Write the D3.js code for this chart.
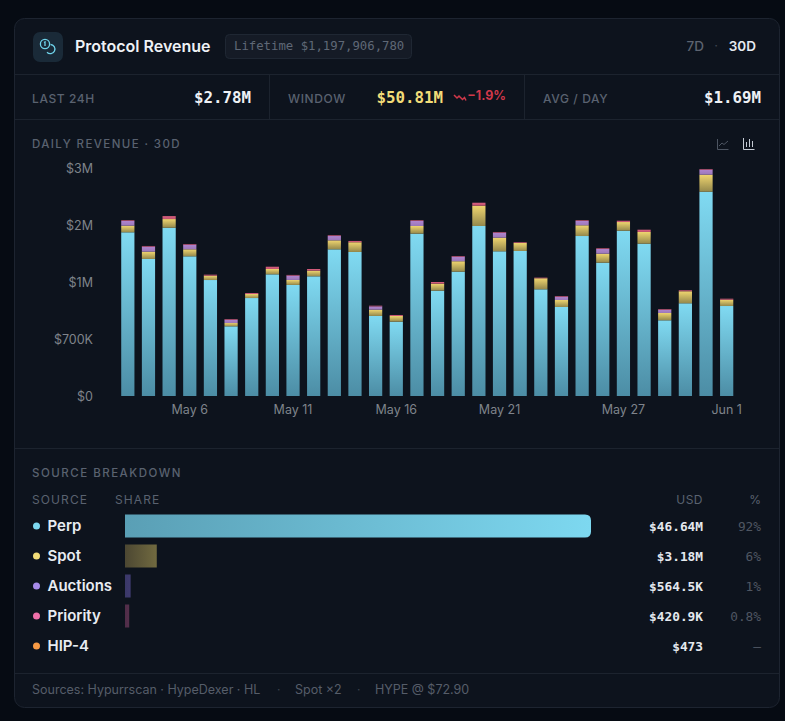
<!DOCTYPE html>
<html lang="en">
<head>
  <meta charset="UTF-8">
  <title>Protocol Revenue</title>
  <script src="https://d3js.org/d3.v7.min.js"></script>
  <style>
    html, body { margin: 0; padding: 0; background: #060b13; overflow: hidden; }
    text { font-family: Inter, "Noto Sans", sans-serif; }
    .mono { font-family: "DejaVu Sans Mono", "Liberation Mono", monospace; }
  </style>
</head>
<body>
  <div id="chart"></div>
  <script>
    // daily revenue, $K
    const days = ['May 3','May 4','May 5','May 6','May 7','May 8','May 9','May 10','May 11','May 12',
      'May 13','May 14','May 15','May 16','May 17','May 18','May 19','May 20','May 21','May 22',
      'May 23','May 24','May 25','May 26','May 27','May 28','May 29','May 30','May 31','Jun 1'];
    const perp = [2154,1803,2214,1838,1526,917,1289,1601,1461,1575,1930,1895,1053,978,2136,
      1386,1636,2237,1904,1908,1404,1171,2105,1754,2175,2004,996,1220,2688,1184];
    const spot = [87,96,114,92,57,43,53,70,66,74,118,128,83,75,101,
      92,137,267,179,105,145,92,141,118,114,154,96,158,224,83];
    const auctions = [62,66,0,60,0,43,0,0,57,0,57,0,43,0,66,
      0,60,0,66,0,0,43,57,62,0,0,43,0,66,0];
    const priority = [9,9,39,9,13,9,13,30,9,22,9,17,9,13,9,
      22,9,39,9,9,8,9,9,9,17,30,9,13,9,13];
    const xTicks = ['May 6','May 11','May 16','May 21','May 27','Jun 1'];
    const yTicks = [0,750,1500,2250,3000];
    const yTickLabels = ['$0','$700K','$1M','$2M','$3M'];

    // source breakdown
    const sources = ['Perp','Spot','Auctions','Priority','HIP-4'];
    const sourceValues = [46640,3180,564.5,420.9,0.473];
    const sourceUsd = ['$46.64M','$3.18M','$564.5K','$420.9K','$473'];
    const sourcePct = ['92%','6%','1%','0.8%','—'];
    const sourceColors = ['#7dd8f0','#f2dc78','#a78bea','#ee6fa8','#f79a45'];

    const width = 785, height = 721;
    const svg = d3.select('#chart').append('svg')
      .attr('width', width).attr('height', height)
      .style('display', 'block');
    const defs = svg.append('defs');

    function gradient(id, stops, x2, y2) {
      const g = defs.append('linearGradient').attr('id', id)
        .attr('x1', 0).attr('y1', 0).attr('x2', x2).attr('y2', y2);
      stops.forEach(s => g.append('stop').attr('offset', s[0]).attr('stop-color', s[1]));
    }
    gradient('gPerp', [[0,'#80daf2'],[1,'#4c8da5']], 0, 1);
    gradient('gSpot', [[0,'#efd56f'],[1,'#94884c']], 0, 1);
    gradient('gAuc', [[0,'#b084cf'],[1,'#9a78b8']], 0, 1);
    gradient('gPri', [[0,'#d8607f'],[1,'#c0506e']], 0, 1);
    gradient('hPerp', [[0,'#5a9fb5'],[1,'#7dd8f0']], 1, 0);
    gradient('hSpot', [[0,'#4c4732'],[1,'#716a40']], 1, 0);
    gradient('hAuc', [[0,'#3a3868'],[1,'#3f3b70']], 1, 0);
    gradient('hPri', [[0,'#4f2c48'],[1,'#55304c']], 1, 0);

    function label(x, y, str, opts) {
      const o = opts || {};
      return svg.append('text').attr('x', x).attr('y', y).text(str)
        .attr('class', o.mono ? 'mono' : null)
        .attr('font-size', o.size || 12)
        .attr('font-weight', o.weight || 400)
        .attr('fill', o.fill || '#6b7280')
        .attr('text-anchor', o.anchor || 'start')
        .attr('letter-spacing', o.ls || 0);
    }

    // card
    svg.append('rect').attr('x', 14.5).attr('y', 18.5).attr('width', 765).attr('height', 689)
      .attr('rx', 10).attr('fill', '#0d131d').attr('stroke', '#1d2430');

    // dividers
    [74.5, 119.5, 448.5, 673.5].forEach(y => {
      svg.append('line').attr('x1', 15).attr('x2', 779).attr('y1', y).attr('y2', y).attr('stroke', '#1c232e');
    });
    [269.5, 524.5].forEach(x => {
      svg.append('line').attr('x1', x).attr('x2', x).attr('y1', 75).attr('y2', 119).attr('stroke', '#1c232e');
    });

    // header
    svg.append('rect').attr('x', 33).attr('y', 32).attr('width', 30).attr('height', 30)
      .attr('rx', 7).attr('fill', '#1a2a38');
    const coins = svg.append('g').attr('fill', 'none').attr('stroke', '#6fd3ea').attr('stroke-width', 1.3);
    coins.append('circle').attr('cx', 45).attr('cy', 44).attr('r', 4.6);
    coins.append('path').attr('d', 'M50.500 44.500a4.600 4.600 0 1 1-3.500 7.800');
    coins.append('path').attr('d', 'M44 42.500l1-.6v4');

    label(75, 52, 'Protocol Revenue', { size: 16, weight: 600, fill: '#eef1f5' });
    svg.append('rect').attr('x', 225.5).attr('y', 34.5).attr('width', 186).attr('height', 24)
      .attr('rx', 4).attr('fill', '#151b26').attr('stroke', '#1f2733');
    label(234, 50, 'Lifetime $1,197,906,780', { mono: true, size: 12.3, fill: '#5f6876' });
    label(704, 51, '7D', { size: 13.5, weight: 500, fill: '#5d6470', anchor: 'end' });
    label(716, 50, '·', { size: 13, fill: '#3f4652', anchor: 'middle' });
    label(756, 51, '30D', { size: 13.5, weight: 600, fill: '#e6eaf0', anchor: 'end' });

    // stats row
    label(32, 103, 'LAST 24H', { size: 12, weight: 500, fill: '#5a6270', ls: 0.6 });
    label(251, 103, '$2.78M', { mono: true, size: 15.8, weight: 700, fill: '#eef1f5', anchor: 'end' });
    label(288, 103, 'WINDOW', { size: 12, weight: 500, fill: '#5a6270', ls: 0.6 });
    label(443, 103, '$50.81M', { mono: true, size: 15.8, weight: 700, fill: '#f2dc78', anchor: 'end' });
    svg.append('path').attr('d', 'M454 95l3 3 2-2 3.500 3.500 2-2 1.500 3')
      .attr('fill', 'none').attr('stroke', '#d0384a').attr('stroke-width', 1.5);
    label(506, 100, '−1.9%', { size: 12.5, weight: 700, fill: '#d0384a', anchor: 'end' });
    label(543, 103, 'AVG / DAY', { size: 12, weight: 500, fill: '#5a6270', ls: 0.6 });
    label(761, 103, '$1.69M', { mono: true, size: 15.8, weight: 700, fill: '#eef1f5', anchor: 'end' });

    // chart
    label(32, 148, 'DAILY REVENUE · 30D', { size: 11.5, weight: 500, fill: '#5a6270', ls: 1.4 });
    const iconLine = svg.append('g').attr('fill', 'none').attr('stroke', '#4d5562').attr('stroke-width', 1);
    iconLine.append('path').attr('d', 'M717.500 139v10.500h11');
    iconLine.append('path').attr('d', 'M719 146l3-3 2 1.500 4-3.500');
    const iconBar = svg.append('g').attr('fill', 'none').attr('stroke', '#c4cad3').attr('stroke-width', 1);
    iconBar.append('path').attr('d', 'M743.500 138v11.500h11 M746.500 147v-5 M749.500 147v-8 M752.500 147v-6');

    const y = d3.scaleLinear().domain([0, 3000]).range([396, 168]);
    const x = d3.scaleBand().domain(days).range([117.5, 737]).paddingInner(0.36).paddingOuter(0.18);

    const yAxis = svg.append('g').attr('transform', 'translate(93,0)')
      .call(d3.axisLeft(y).tickValues(yTicks).tickSize(0).tickPadding(0)
        .tickFormat((d, i) => yTickLabels[i]));
    yAxis.select('.domain').remove();
    yAxis.selectAll('text').attr('font-size', 12.5).attr('fill', '#7f848b')
      .attr('font-family', 'Inter, sans-serif');

    const xAxis = svg.append('g').attr('transform', 'translate(0,396)')
      .call(d3.axisBottom(x).tickValues(xTicks).tickSize(0).tickPadding(9));
    xAxis.select('.domain').remove();
    xAxis.selectAll('text').attr('font-size', 12.5).attr('fill', '#7f848b')
      .attr('font-family', 'Inter, sans-serif');

    const rows = days.map((d, i) => ({ day: d, perp: perp[i], spot: spot[i], auctions: auctions[i], priority: priority[i] }));
    const stack = d3.stack().keys(['perp','spot','auctions','priority'])(rows);
    const fills = { perp: 'url(#gPerp)', spot: 'url(#gSpot)', auctions: 'url(#gAuc)', priority: 'url(#gPri)' };

    svg.append('g').selectAll('g').data(stack).enter().append('g')
      .attr('fill', s => fills[s.key])
      .selectAll('rect').data(s => s.filter(p => p[1] > p[0])).enter().append('rect')
      .attr('x', p => x(p.data.day))
      .attr('width', x.bandwidth())
      .attr('y', p => y(p[1]))
      .attr('height', p => y(p[0]) - y(p[1]));

    // breakdown
    label(32, 477, 'SOURCE BREAKDOWN', { size: 11.5, weight: 500, fill: '#5a6270', ls: 1.5 });
    label(32, 504, 'SOURCE', { size: 12, fill: '#5a6270', ls: 1.1 });
    label(115, 504, 'SHARE', { size: 12, fill: '#5a6270', ls: 1.1 });
    label(703, 504, 'USD', { size: 12, fill: '#5a6270', anchor: 'end', ls: 0.5 });
    label(761, 504, '%', { size: 12, fill: '#5a6270', anchor: 'end' });

    const rowY = d3.scalePoint().domain(sources).range([526, 646]);
    const share = d3.scaleLinear().domain([0, 46640]).range([0, 466]);
    const barFills = ['url(#hPerp)', 'url(#hSpot)', 'url(#hAuc)', 'url(#hPri)', 'none'];
    const rowsG = svg.append('g').selectAll('g').data(sources).enter().append('g')
      .attr('transform', d => `translate(0,${rowY(d)})`);
    rowsG.append('circle').attr('cx', 36.5).attr('r', 3.5).attr('fill', (d, i) => sourceColors[i]);
    rowsG.append('text').attr('x', 47.5).attr('y', 5).text(d => d)
      .attr('font-size', 15).attr('font-weight', 600).attr('fill', '#e8ecf2');
    // only the full-length bar has visibly rounded ends
    rowsG.append('path').attr('fill', (d, i) => barFills[i])
      .attr('d', (d, i) => {
        const w = share(sourceValues[i]), r = w > 100 ? 6 : 0;
        return `M125 -11.5h${w - r}q${r} 0 ${r} ${r}v${23 - 2 * r}q0 ${r} ${-r} ${r}h${r - w}z`;
      });
    rowsG.append('text').attr('class', 'mono').attr('x', 703).attr('y', 4.5)
      .attr('text-anchor', 'end').text((d, i) => sourceUsd[i])
      .attr('font-size', 12.8).attr('font-weight', 700).attr('fill', '#e4e8ee');
    rowsG.append('text').attr('class', 'mono').attr('x', 761).attr('y', 4.5)
      .attr('text-anchor', 'end').text((d, i) => sourcePct[i])
      .attr('font-size', 12.8).attr('fill', '#4f5662');

    // footer
    label(32, 694, 'Sources: Hypurrscan · HypeDexer · HL', { size: 12.5, fill: '#565d69' });
    label(277, 694, '·', { size: 12, fill: '#3c434e' });
    label(295, 694, 'Spot ×2', { size: 12.5, fill: '#565d69' });
    label(357, 694, '·', { size: 12, fill: '#3c434e' });
    label(375, 694, 'HYPE @ $72.90', { size: 12.5, fill: '#565d69' });
  </script>
</body>
</html>
